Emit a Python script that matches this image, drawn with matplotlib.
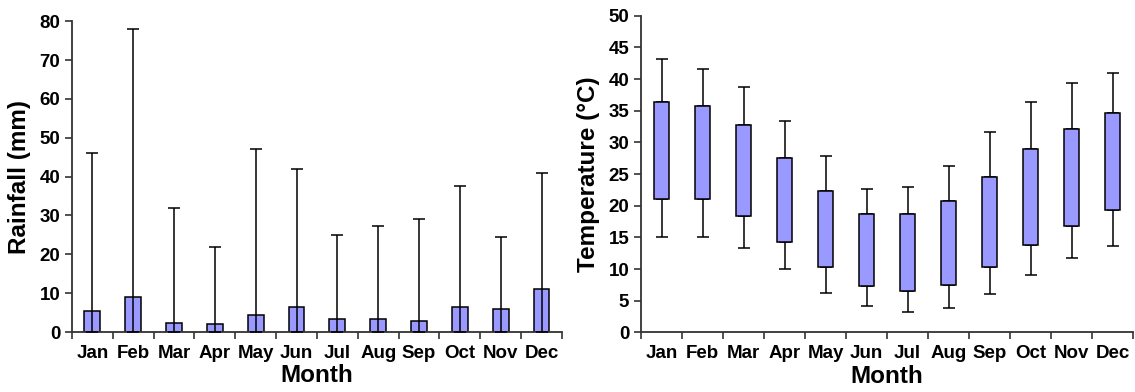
import matplotlib
matplotlib.use("Agg")
import matplotlib.pyplot as plt
import numpy as np

months = ["Jan", "Feb", "Mar", "Apr", "May", "Jun",
          "Jul", "Aug", "Sep", "Oct", "Nov", "Dec"]

# rainfall: mean bar and maximum (error bar top)
rain_mean = [5.5, 9.0, 2.4, 2.1, 4.5, 6.5, 3.4, 3.4, 2.8, 6.5, 5.8, 11.0]
rain_max = [46, 78, 32, 22, 47, 42, 25, 27.3, 29, 37.5, 24.5, 41]

# temperature: box bottom/top and whisker low/high
temp_box_low = [21.0, 21.0, 18.4, 14.3, 10.3, 7.3, 6.5, 7.5, 10.3, 13.8, 16.8, 19.3]
temp_box_high = [36.3, 35.7, 32.7, 27.5, 22.3, 18.7, 18.7, 20.8, 24.5, 28.9, 32.1, 34.6]
temp_min = [15.1, 15.1, 13.4, 10.0, 6.3, 4.2, 3.3, 3.9, 6.0, 9.0, 11.7, 13.6]
temp_max = [43.1, 41.6, 38.8, 33.4, 27.9, 22.7, 22.9, 26.3, 31.7, 36.4, 39.3, 41.0]

plt.rcParams["font.family"] = ["Liberation Sans", "DejaVu Sans"]
plt.rcParams["font.weight"] = "bold"

fill = "#9999ff"
x = np.arange(len(months))

fig = plt.figure(figsize=(11.35, 3.92), dpi=100)
ax1 = fig.add_axes([0.0634, 0.153, 0.4317, 0.793])
ax2 = fig.add_axes([0.5648, 0.152, 0.4335, 0.808])


def style_axis(ax):
    for side in ("top", "right"):
        ax.spines[side].set_visible(False)
    for side in ("left", "bottom"):
        ax.spines[side].set_color("#333333")
        ax.spines[side].set_linewidth(1.3)
    ax.set_xlim(-0.5, len(months) - 0.5)
    ax.set_xticks(x)
    ax.set_xticklabels(months)
    ax.set_xticks(np.arange(-0.5, len(months)), minor=True)
    ax.tick_params(axis="x", which="major", length=0, pad=9, labelsize=13.5)
    ax.tick_params(axis="x", which="minor", length=5, width=1.2, color="#333333")
    ax.tick_params(axis="y", length=5, width=1.2, color="#333333", labelsize=13.5)
    ax.set_xlabel("Month", fontsize=17.5, fontweight="bold", labelpad=2)


# left: rainfall
rain_mean = np.array(rain_mean)
rain_max = np.array(rain_max)
ax1.errorbar(x, rain_mean, yerr=[rain_mean, rain_max - rain_mean], fmt="none",
             ecolor="black", elinewidth=1.1, capsize=4, capthick=1.1, zorder=3)
ax1.bar(x, rain_mean, width=0.39, color=fill, edgecolor="black",
        linewidth=1.1, zorder=2)
ax1.set_ylim(0, 80)
ax1.set_yticks(range(0, 81, 10))
ax1.set_ylabel("Rainfall (mm)", fontsize=17.5, fontweight="bold", labelpad=6)
style_axis(ax1)

# right: temperature
low = np.array(temp_box_low)
high = np.array(temp_box_high)
ax2.errorbar(x, high, yerr=[np.zeros_like(high), np.array(temp_max) - high],
             fmt="none", ecolor="black", elinewidth=1.1, capsize=4,
             capthick=1.1, zorder=1)
ax2.errorbar(x, low, yerr=[low - np.array(temp_min), np.zeros_like(low)],
             fmt="none", ecolor="black", elinewidth=1.1, capsize=4,
             capthick=1.1, zorder=1)
ax2.bar(x, high - low, bottom=low, width=0.38, color=fill,
        edgecolor="black", linewidth=1.1, zorder=2)
ax2.set_ylim(0, 50)
ax2.set_yticks(range(0, 51, 5))
ax2.set_ylabel("Temperature (\u00b0C)", fontsize=17.5, fontweight="bold", labelpad=6)
style_axis(ax2)

fig.savefig("out.png", dpi=100)
